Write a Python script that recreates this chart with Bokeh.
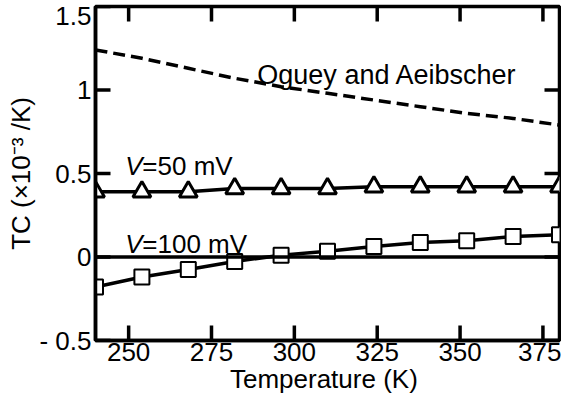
from bokeh.plotting import figure
from bokeh.models import Range1d, FixedTicker, Span
from bokeh.core.properties import value
from bokeh.embed import file_html
from bokeh.resources import INLINE

# ---- data ----
temps = [240, 254, 268, 282, 296, 310, 324, 338, 352, 366, 380]
tc_oguey = [1.24, 1.19, 1.13, 1.07, 1.02, 0.98, 0.94, 0.90, 0.86, 0.83, 0.79]
tc_50mv = [0.39, 0.39, 0.39, 0.41, 0.41, 0.41, 0.42, 0.42, 0.42, 0.42, 0.42]
tc_100mv = [-0.18, -0.12, -0.075, -0.027, 0.011, 0.035, 0.063, 0.087, 0.097, 0.123, 0.133]
x_ticks = [250, 275, 300, 325, 350, 375]
y_ticks = [-0.5, 0, 0.5, 1, 1.5]
y_tick_labels = ["- 0.5", "0", "0.5", "1", "1.5"]
x_lo, x_hi = 240, 380
y_lo, y_hi = -0.5, 1.5

FONT = "Liberation Sans"
LW = 3.5
TL = 15

p = figure(width=561, height=398, output_backend="svg", toolbar_location=None,
           x_range=Range1d(x_lo, x_hi), y_range=Range1d(y_lo, y_hi),
           min_border_left=95, min_border_right=2, min_border_top=6, min_border_bottom=58)
p.grid.visible = False
p.outline_line_color = "black"
p.outline_line_width = LW
p.background_fill_color = "white"
p.border_fill_color = "white"

for ax in (p.xaxis[0], p.yaxis[0]):
    ax.minor_tick_line_color = None
    ax.major_tick_in = 0
    ax.major_tick_out = 0
    ax.axis_line_width = LW
    ax.axis_line_color = "black"
    ax.major_label_text_font = FONT
    ax.major_label_text_color = "black"
    ax.major_label_text_font_size = "26px"
    ax.axis_label_text_font = FONT
    ax.axis_label_text_font_style = "normal"
    ax.axis_label_text_color = "black"
    ax.axis_label_text_font_size = "26px"

xa = p.xaxis[0]
xa.ticker = FixedTicker(ticks=x_ticks)
xa.axis_label = "Temperature  (K)"
xa.major_label_standoff = 2
xa.axis_label_standoff = 0

ya = p.yaxis[0]
ya.ticker = FixedTicker(ticks=y_ticks)
ya.axis_label = "TC (×10⁻³ /K)"
ya.major_label_overrides = {t: s for t, s in zip(y_ticks, y_tick_labels)}
ya.major_label_standoff = 4
ya.axis_label_standoff = 0

# zero line
p.add_layout(Span(location=0, dimension="width", line_color="black", line_width=LW))

# curves
p.line(temps, tc_oguey, line_color="black", line_width=LW, line_dash="12 6")
p.line(temps, tc_50mv, line_color="black", line_width=LW)
p.scatter(temps, tc_50mv, marker="triangle", size=18, fill_color="white",
          line_color="black", line_width=3)
p.line(temps, tc_100mv, line_color="black", line_width=LW)
p.scatter(temps, tc_100mv, marker="square", size=15, fill_color="white",
          line_color="black", line_width=2)

# inward ticks on all four sides: thin filled rectangles centred on the frame
# edge (outer half clipped by the frame)
n, m = len(x_ticks), len(y_ticks)
p.rect(x=x_ticks * 2, y=[y_lo] * n + [y_hi] * n, width=LW, height=2 * TL,
       width_units="screen", height_units="screen", fill_color="black", line_color=None)
p.rect(x=[x_lo] * m + [x_hi] * m, y=y_ticks * 2, width=2 * TL, height=LW,
       width_units="screen", height_units="screen", fill_color="black", line_color=None)

# annotations
p.text(x=[328], y=[1.09], text=["Oguey and Aeibscher"], text_font=value(FONT),
       text_font_size="27px", text_align="center", text_baseline="alphabetic", text_color="black")
p.text(x=[249, 249], y=[0.545, 0.075], text=["V", "V"], text_font=value(FONT),
       text_font_style="italic", text_font_size="26px", text_align="left",
       text_baseline="alphabetic", text_color="black")
p.text(x=[249, 249], y=[0.545, 0.075], text=["=50 mV", "=100 mV"], text_font=value(FONT),
       text_font_size="26px", text_align="left", x_offset=17,
       text_baseline="alphabetic", text_color="black")

open("out.html", "w").write(file_html(p, INLINE))
